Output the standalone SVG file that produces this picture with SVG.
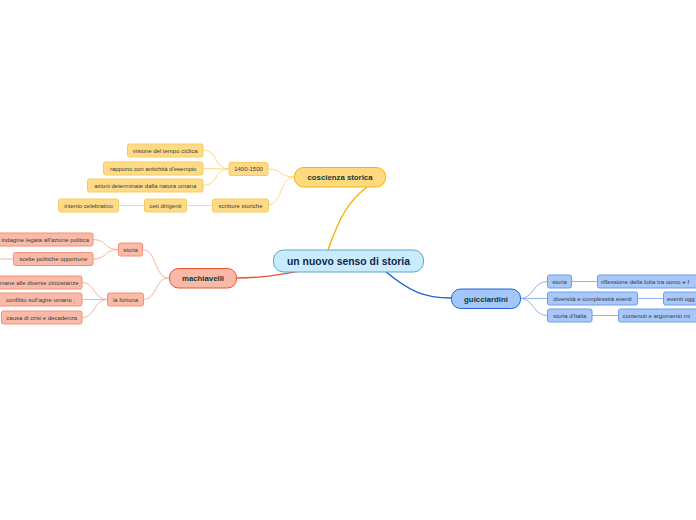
<svg xmlns="http://www.w3.org/2000/svg" width="696" height="520" viewBox="0 0 696 520">
<style>
.t{font-family:"Liberation Sans",Arial,sans-serif;font-size:6px;fill:#3a3a3a;text-anchor:middle}
.m{font-family:"Liberation Sans",Arial,sans-serif;font-size:7.8px;font-weight:bold;fill:#123c2e;text-anchor:middle}
.r{font-family:"Liberation Sans",Arial,sans-serif;font-size:10.4px;font-weight:bold;fill:#14264e;text-anchor:middle}
.oc{fill:#ffdb88;stroke:#f7cb62;stroke-width:1}
.rc{fill:#f9bba8;stroke:#f1907a;stroke-width:1}
.bc{fill:#a9c8fa;stroke:#6d9de6;stroke-width:1}
.lo{fill:none;stroke:#ffd983;stroke-width:1}
.lr{fill:none;stroke:#f8b29c;stroke-width:1}
.lb{fill:none;stroke:#8fb4ee;stroke-width:1}
</style>
<rect width="696" height="520" fill="#ffffff"/>
<g id="connectors">
<path d="M328,250 C340,215 350,200 367,187" fill="none" stroke="#f7b000" stroke-width="1.4"/>
<path d="M300,271 C270,276 260,278 236,278" fill="none" stroke="#e8542c" stroke-width="1.4"/>
<path d="M385,271 C410,292 425,298 451,298" fill="none" stroke="#1e64d4" stroke-width="1.4"/>
<path class="lo" d="M294,177 C280,177 282,169 268,169"/>
<path class="lo" d="M294,177 C280,177 282,205 268,205"/>
<path class="lo" d="M229,169 C214,169 218,150 203,150"/>
<path class="lo" d="M229,169 L203,168.5"/>
<path class="lo" d="M229,169 C214,169 218,185.5 203,185.5"/>
<path class="lo" d="M212,205.5 L186,205.5"/>
<path class="lo" d="M144,205.5 L118,205.5"/>
<path class="lr" d="M169,278 C154,278 157,249.5 142,249.5"/>
<path class="lr" d="M169,278 C154,278 158,299.5 143,299.5"/>
<path class="lr" d="M118,249.5 C104,249.5 107,239.5 93,239.5"/>
<path class="lr" d="M118,249.5 C104,249.5 107,259 93,259"/>
<path class="lr" d="M0,259 L13,259"/>
<path class="lr" d="M107,299.5 C94,299.5 95,282.5 82,282.5"/>
<path class="lr" d="M107,299.5 L82,299.5"/>
<path class="lr" d="M107,299.5 C94,299.5 95,317.5 82,317.5"/>
<path class="lb" d="M520,298.5 C534,298.5 533,281.5 547,281.5"/>
<path class="lb" d="M520,298.5 L547,298.5"/>
<path class="lb" d="M520,298.5 C534,298.5 533,315.5 547,315.5"/>
<path class="lb" d="M571,281.5 L597,281.5"/>
<path class="lb" d="M637,298.5 L663,298.5"/>
<path class="lb" d="M592,315.5 L618,315.5"/>
</g>
<g id="root">
<rect x="273.5" y="250" width="150" height="22" rx="10" fill="#c8ecfd" stroke="#5aa6d6" stroke-width="1"/>
<text class="r" x="348.5" y="264.8">un nuovo senso di storia</text>
</g>
<g id="coscienza">
<rect x="294.5" y="167.5" width="91" height="19.5" rx="9" fill="#ffd980" stroke="#f5b400" stroke-width="1"/>
<text class="m" x="340" y="180">coscienza storica</text>
</g>
<g id="n1400">
<rect class="oc" x="229" y="162.5" width="39" height="13" rx="2"/>
<text class="t" x="248.5" y="171.2">1400-1500</text>
</g>
<g id="visione">
<rect class="oc" x="127.5" y="144" width="75.5" height="13" rx="2"/>
<text class="t" x="165.2" y="152.7">visione del tempo ciclica</text>
</g>
<g id="rapporto">
<rect class="oc" x="103.5" y="162" width="99.5" height="13" rx="2"/>
<text class="t" x="153.2" y="170.7">rapporto con antichità d'esempio</text>
</g>
<g id="azioni">
<rect class="oc" x="87.5" y="179" width="115.5" height="13" rx="2"/>
<text class="t" x="145.2" y="187.7">azioni determinate dalla natura umana</text>
</g>
<g id="scritture">
<rect class="oc" x="212.5" y="199" width="56" height="13" rx="2"/>
<text class="t" x="240.5" y="207.7">scritture storiche</text>
</g>
<g id="ceti">
<rect class="oc" x="144.5" y="199" width="42" height="13" rx="2"/>
<text class="t" x="165.5" y="207.7">ceti dirigenti</text>
</g>
<g id="intento">
<rect class="oc" x="58.5" y="199" width="60" height="13" rx="2"/>
<text class="t" x="88.5" y="207.7">intento celebrativo</text>
</g>
<g id="machiavelli">
<rect x="169.5" y="268.5" width="67" height="19.5" rx="9" fill="#f9b9a6" stroke="#e8542c" stroke-width="1"/>
<text class="m" x="203" y="281">machiavelli</text>
</g>
<g id="m-storia">
<rect class="rc" x="118.5" y="243" width="24" height="13" rx="2"/>
<text class="t" x="130.5" y="251.7">storia</text>
</g>
<g id="m-fortuna">
<rect class="rc" x="107.5" y="293" width="36" height="13" rx="2"/>
<text class="t" x="125.5" y="301.7">la fortuna</text>
</g>
<g id="indagine">
<rect class="rc" x="-8" y="233" width="101" height="13" rx="2"/>
<text class="t" x="89" y="241.7" style="text-anchor:end">indagine legata all'azione politica</text>
</g>
<g id="scelte">
<rect class="rc" x="13.5" y="252.5" width="79.5" height="13" rx="2"/>
<text class="t" x="53.2" y="261.2">scelte politiche opportune</text>
</g>
<g id="circostanze">
<rect class="rc" x="-10" y="276" width="92" height="13" rx="2"/>
<text class="t" x="78.5" y="284.7" style="text-anchor:end">mane alle diverse circostanze</text>
</g>
<g id="conflitto">
<rect class="rc" x="-2" y="293" width="84" height="13" rx="2"/>
<text class="t" x="40.5" y="301.7">conflitto sull'agire umano ;</text>
</g>
<g id="causa">
<rect class="rc" x="1.5" y="311" width="80.5" height="13" rx="2"/>
<text class="t" x="41.7" y="319.7">causa di crisi e decadenza</text>
</g>
<g id="guicciardini">
<rect x="451.5" y="289" width="69" height="19.5" rx="9" fill="#a4c6fa" stroke="#1e64d4" stroke-width="1"/>
<text class="m" x="486" y="301.5">guicciardini</text>
</g>
<g id="g-storia">
<rect class="bc" x="547.5" y="275" width="24" height="13" rx="2"/>
<text class="t" x="559.5" y="283.7">storia</text>
</g>
<g id="g-diversita">
<rect class="bc" x="547.5" y="292" width="90" height="13" rx="2"/>
<text class="t" x="592.5" y="300.7">diversità e complessità eventi</text>
</g>
<g id="g-italia">
<rect class="bc" x="547.5" y="309" width="44.5" height="13" rx="2"/>
<text class="t" x="569.7" y="317.7">storia d'Italia</text>
</g>
<g id="riflessione">
<rect class="bc" x="597.5" y="275" width="110" height="13" rx="2"/>
<text class="t" x="601" y="283.7" style="text-anchor:start">riflessione della lotta tra uomo e f</text>
</g>
<g id="eventi">
<rect class="bc" x="663.5" y="292" width="50" height="13" rx="2"/>
<text class="t" x="667" y="300.7" style="text-anchor:start">eventi ogg</text>
</g>
<g id="contenuti">
<rect class="bc" x="618.5" y="309" width="90" height="13" rx="2"/>
<text class="t" x="622.5" y="317.7" style="text-anchor:start">contenuti e argomento mi</text>
</g>
</svg>
